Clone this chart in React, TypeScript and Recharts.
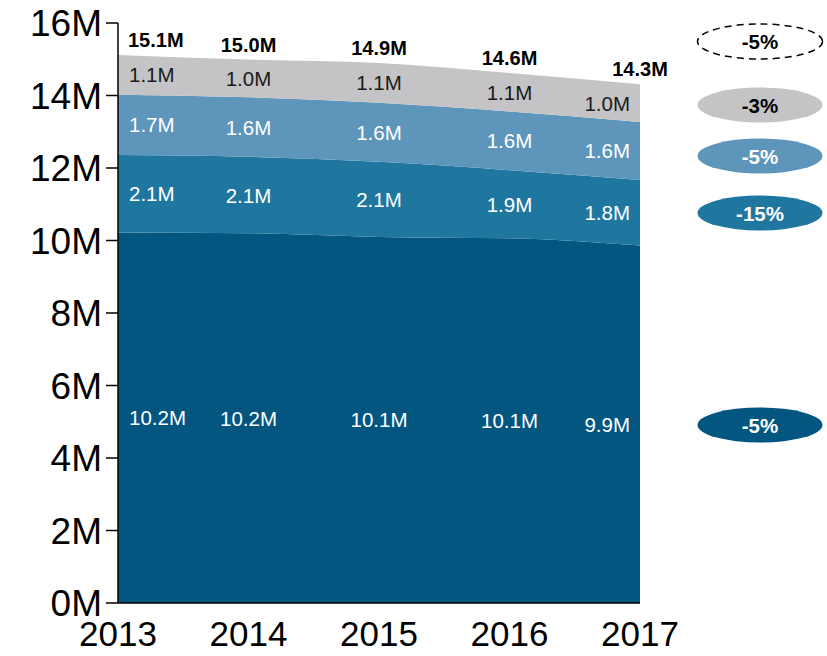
import { Area, AreaChart, LabelList, XAxis, YAxis } from 'recharts'

const years = ['2013', '2014', '2015', '2016', '2017']
const coreUsers = [10.22, 10.2, 10.1, 10.06, 9.86]
const secondTier = [2.14, 2.11, 2.07, 1.88, 1.81]
const thirdTier = [1.66, 1.64, 1.63, 1.62, 1.6]
const otherUsers = [1.1, 1.04, 1.1, 1.06, 1.04]
const yTicks = [0, 2, 4, 6, 8, 10, 12, 14, 16]
const changeLabels = ['-5%', '-3%', '-5%', '-15%', '-5%']

const W = 827
const H = 656
const TOP = 23
const X_AXIS_H = 53
const Y_MAX = 16
const PX_PER_M = (H - TOP - X_AXIS_H) / Y_MAX
const FONT = '"Liberation Sans", Arial, sans-serif'

const colors = ['#03567f', '#1f77a0', '#5e95bb', '#c4c4c6']

const data = years.map((year, i) => ({
  year,
  core: coreUsers[i],
  second: secondTier[i],
  third: thirdTier[i],
  other: otherUsers[i],
  total: coreUsers[i] + secondTier[i] + thirdTier[i] + otherUsers[i],
}))

function pos(props: any) {
  const x = props.x ?? props.viewBox?.x
  const y = props.y ?? props.viewBox?.y
  return { x: Number(x), y: Number(y), index: props.index as number }
}

function bandLabel(series: number[], fill: string) {
  return (props: any) => {
    const { x, y, index } = pos(props)
    const v = series[index]
    const last = index === years.length - 1
    const anchor = index === 0 ? 'start' : last ? 'end' : 'middle'
    const tx = index === 0 ? x + 11 : last ? x - 10 : x
    return (
      <text x={tx} y={y + (v * PX_PER_M) / 2} textAnchor={anchor} dominantBaseline="central"
        fill={fill} fontSize={20.5} fontFamily={FONT}>
        {v.toFixed(1)}M
      </text>
    )
  }
}

function totalLabel(props: any) {
  const { x, y, index } = pos(props)
  const tx = index === 0 ? x + 10 : x
  return (
    <text x={tx} y={y - 15} textAnchor={index === 0 ? 'start' : 'middle'} dominantBaseline="central"
      fill="#000" fontSize={20} fontWeight="bold" fontFamily={FONT}>
      {data[index].total.toFixed(1)}M
    </text>
  )
}

const pills = [
  { cy: 41.5, fill: '#fff', text: '#000', dashed: true },
  { cy: 105, fill: colors[3], text: '#000', dashed: false },
  { cy: 156, fill: colors[2], text: '#fff', dashed: false },
  { cy: 213, fill: colors[1], text: '#fff', dashed: false },
  { cy: 425, fill: colors[0], text: '#fff', dashed: false },
]

export default function App() {
  return (
    <div style={{ position: 'absolute', left: 0, top: 0, width: W, height: H, fontFamily: FONT }}>
      <AreaChart width={W} height={H} data={data} margin={{ top: TOP, right: 187, left: 0, bottom: 0 }}>
        <XAxis dataKey="year" height={X_AXIS_H} tickLine={false} tickSize={6} tickMargin={12}
          axisLine={{ stroke: '#000', strokeWidth: 1.5 }}
          tick={{ fontSize: 35, fill: '#000', fontFamily: FONT }} />
        <YAxis domain={[0, Y_MAX]} ticks={yTicks} width={118} tickSize={12} tickMargin={4}
          tickFormatter={(v: number) => `${v}M`}
          axisLine={{ stroke: '#000', strokeWidth: 1.5 }} tickLine={{ stroke: '#000', strokeWidth: 1.5 }}
          tick={{ fontSize: 37, fill: '#000', fontFamily: FONT }} />
        <Area type="monotone" dataKey="core" stackId="a" stroke="none" fill={colors[0]} fillOpacity={1} isAnimationActive={false}>
          <LabelList dataKey="core" content={bandLabel(coreUsers, '#fff')} />
        </Area>
        <Area type="monotone" dataKey="second" stackId="a" stroke="none" fill={colors[1]} fillOpacity={1} isAnimationActive={false}>
          <LabelList dataKey="second" content={bandLabel(secondTier, '#fff')} />
        </Area>
        <Area type="monotone" dataKey="third" stackId="a" stroke="none" fill={colors[2]} fillOpacity={1} isAnimationActive={false}>
          <LabelList dataKey="third" content={bandLabel(thirdTier, '#fff')} />
        </Area>
        <Area type="monotone" dataKey="other" stackId="a" stroke="none" fill={colors[3]} fillOpacity={1} isAnimationActive={false}>
          <LabelList dataKey="other" content={bandLabel(otherUsers, '#1a1a1a')} />
          <LabelList dataKey="total" content={totalLabel} />
        </Area>
      </AreaChart>
      <svg width={W} height={H} style={{ position: 'absolute', left: 0, top: 0, pointerEvents: 'none' }}>
        {pills.map((p, i) => (
          <g key={i}>
            <ellipse cx={760} cy={p.cy} rx={62.5} ry={17.5} fill={p.fill}
              stroke={p.dashed ? '#000' : 'none'} strokeWidth={1.5} strokeDasharray={p.dashed ? '7 5' : undefined} />
            <text x={760} y={p.cy} textAnchor="middle" dominantBaseline="central" fill={p.text}
              fontSize={20.5} fontWeight="bold" fontFamily={FONT}>
              {changeLabels[i]}
            </text>
          </g>
        ))}
      </svg>
    </div>
  )
}
